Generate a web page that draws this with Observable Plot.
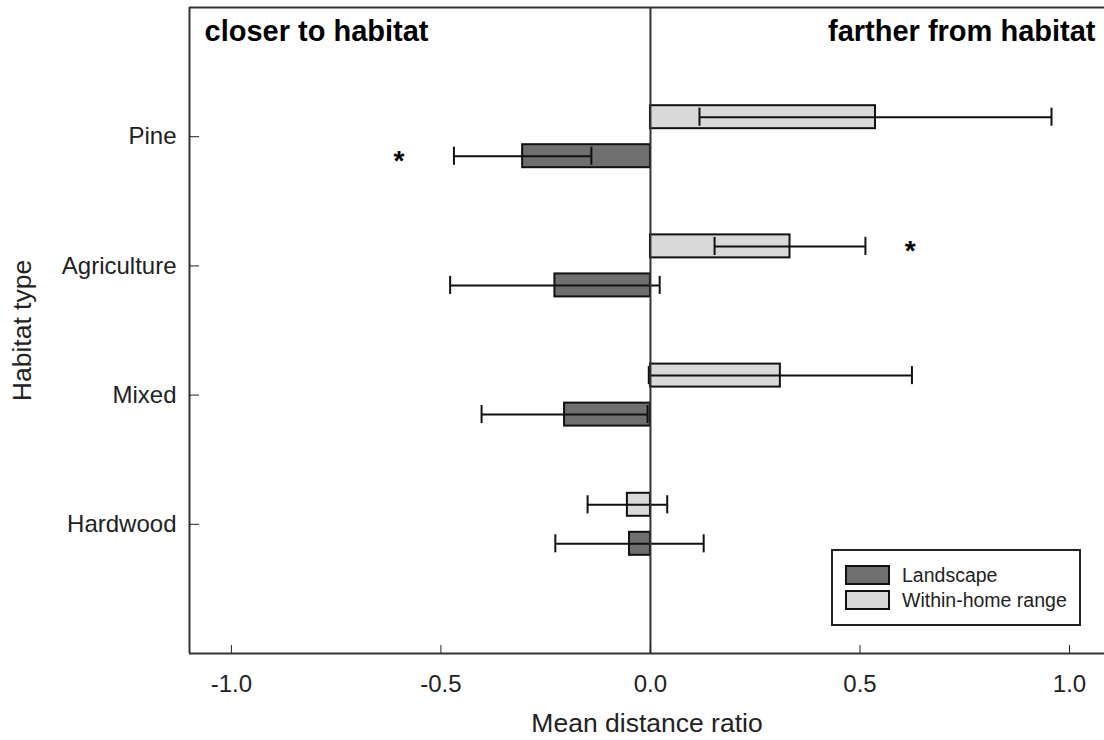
<!DOCTYPE html>
<html>
<head>
<meta charset="utf-8">
<script src="https://cdn.jsdelivr.net/npm/d3@7"></script>
<script src="https://cdn.jsdelivr.net/npm/@observablehq/plot@0.6"></script>
<style>
  html, body { margin: 0; padding: 0; background: #fff; }
  #wrap { position: relative; width: 1104px; height: 740px; font-family: "Liberation Sans", Arial, sans-serif; }
  #legend { position: absolute; left: 831px; top: 549px; width: 246px; height: 73px; border: 2px solid #222; background: #fff; }
  .item { position: absolute; left: 12px; height: 20px; display: flex; align-items: center; }
  .sw { width: 41px; height: 16px; border: 2px solid #111; box-sizing: content-box; }
  .lab { margin-left: 12px; font-size: 19.5px; color: #222; white-space: nowrap; }
</style>
</head>
<body>
<div id="wrap"></div>
<script>
// ---- data ----
const categories = ["Pine", "Agriculture", "Mixed", "Hardwood"];
const series = ["Landscape", "Within-home range"];
const seriesColors = ["#6f6f6f", "#d9d9d9"];
const landscapeMean = [-0.305, -0.228, -0.205, -0.050];
const landscapeErr  = [0.164, 0.250, 0.198, 0.177];
const withinMean    = [0.537, 0.333, 0.310, -0.055];
const withinErr     = [0.420, 0.180, 0.314, 0.095];
const sigCategory = ["Pine", "Agriculture"];
const sigSeries   = ["Landscape", "Within-home range"];
const sigX        = [-0.60, 0.62];
const xTicks = [-1.0, -0.5, 0.0, 0.5, 1.0];
const xDomain = [-1.1, 1.0835];
const yDomain = [0, 5];
const xTitle = "Mean distance ratio";
const yTitle = "Habitat type";

// ---- derived table ----
const rows = [];
categories.forEach((c, i) => {
  rows.push({cat: c, series: series[0], mean: landscapeMean[i], err: landscapeErr[i], pos: i + 1, off: 1});
  rows.push({cat: c, series: series[1], mean: withinMean[i], err: withinErr[i], pos: i + 1, off: -1});
});
const center = d => d.pos + d.off * 0.151;
const caps = rows.flatMap(d => [
  {x: d.mean - d.err, y: center(d)},
  {x: d.mean + d.err, y: center(d)}
]);
const sig = sigCategory.map((c, i) => {
  const r = rows.find(d => d.cat === c && d.series === sigSeries[i]);
  return {x: sigX[i], y: center(r)};
});

const chart = Plot.plot({
  width: 1104,
  height: 740,
  marginLeft: 189,
  marginRight: 0,
  marginTop: 7,
  marginBottom: 87,
  style: {fontFamily: "'Liberation Sans', Arial, sans-serif", color: "#222", background: "#fff"},
  x: {domain: xDomain},
  y: {domain: yDomain, reverse: true},
  color: {domain: series, range: seriesColors},
  marks: [
    // frame (left, top, bottom)
    Plot.ruleX([xDomain[0]], {stroke: "#333", strokeWidth: 2}),
    Plot.ruleY([yDomain[0], yDomain[1]], {stroke: "#333", strokeWidth: 2}),
    // bars
    Plot.rect(rows, {
      x1: 0, x2: "mean",
      y1: d => d.pos + d.off * 0.062,
      y2: d => d.pos + d.off * 0.24,
      fill: "series", stroke: "#111", strokeWidth: 2
    }),
    // error bars
    Plot.ruleY(rows, {y: center, x1: d => d.mean - d.err, x2: d => d.mean + d.err, stroke: "#111", strokeWidth: 2}),
    Plot.ruleX(caps, {x: "x", y1: d => d.y - 0.07, y2: d => d.y + 0.07, stroke: "#111", strokeWidth: 2}),
    // zero line
    Plot.ruleX([0], {stroke: "#333", strokeWidth: 2}),
    // significance
    Plot.text(sig, {x: "x", y: "y", text: () => "*", fontSize: 28, fontWeight: "bold", fill: "#000", dy: 5}),
    // axes
    Plot.axisX({ticks: xTicks, tickSize: -8, tickPadding: 29, tickFormat: d => d.toFixed(1), fontSize: 24,
      label: null, stroke: "#222"}),
    Plot.axisY({ticks: [1, 2, 3, 4], tickSize: -10, tickPadding: 23, tickFormat: d => categories[d - 1], fontSize: 24,
      label: null, stroke: "#222"}),
    // axis titles
    Plot.text([xTitle], {frameAnchor: "bottom", textAnchor: "middle", lineAnchor: "middle", dy: 70, fontSize: 26.5, fill: "#222"}),
    Plot.text([yTitle], {frameAnchor: "left", textAnchor: "middle", lineAnchor: "middle", rotate: -90, dx: -167, fontSize: 26.5, fill: "#222"}),
    // corner notes
    Plot.text(["closer to habitat"], {frameAnchor: "top-left", textAnchor: "start", lineAnchor: "top", dx: 15, dy: 13,
      fontSize: 29, fontWeight: "bold", fill: "#000"}),
    Plot.text(["farther from habitat"], {frameAnchor: "top-right", textAnchor: "end", lineAnchor: "top", dx: -9, dy: 13,
      fontSize: 29, fontWeight: "bold", fill: "#000"})
  ]
});

const wrap = document.getElementById("wrap");
wrap.appendChild(chart);

// legend (HTML)
const legend = document.createElement("div");
legend.id = "legend";
series.forEach((s, i) => {
  const item = document.createElement("div");
  item.className = "item";
  item.style.top = (14 + i * 25) + "px";
  const sw = document.createElement("div");
  sw.className = "sw";
  sw.style.background = seriesColors[i];
  const lab = document.createElement("span");
  lab.className = "lab";
  lab.textContent = s;
  item.appendChild(sw); item.appendChild(lab);
  legend.appendChild(item);
});
wrap.appendChild(legend);
</script>
</body>
</html>
